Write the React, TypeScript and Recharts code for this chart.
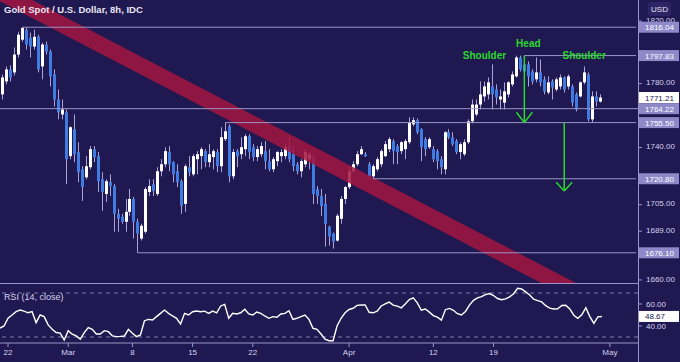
import React from 'react';
import { ComposedChart, LineChart, Line, Bar, XAxis, YAxis, ReferenceLine, ReferenceDot } from 'recharts';

const BG = '#201850';
const AXIS = '#9a95c8';
const TEXT = '#d6d3ee';
const WICK = '#aaa4d6';
const UP = '#ffffff';
const DOWN = '#3f7be0';
const LEVEL_FILL = '#8f89c9';
const GREEN = '#2bd92d';
const FONT = "'Liberation Sans', Arial, sans-serif";

const OPEN = [
  1773.2,1781.4,1789.0,1787.1,1798.5,1808.0,1814.4,1809.3,1803.6,1809.9,
  1790.9,1804.9,1800.4,1785.8,1770.0,1760.6,1761.9,1734.7,1751.4,1737.2,
  1726.6,1721.7,1727.9,1739.0,1734.7,1720.5,1711.5,1718.7,1716.3,1699.5,
  1697.7,1694.7,1700.7,1708.5,1694.7,1684.6,1688.7,1712.7,1717.5,1711.5,
  1725.4,1729.7,1737.2,1731.0,1725.4,1719.3,1705.5,1727.9,1723.5,1732.8,
  1734.7,1737.8,1731.0,1734.1,1737.2,1728.5,1745.2,1753.2,1722.3,1737.8,
  1735.9,1739.0,1747.0,1740.2,1734.1,1735.9,1737.8,1731.6,1726.6,1731.6,
  1734.7,1734.7,1740.9,1735.9,1729.7,1725.4,1729.7,1732.8,1734.7,1714.5,
  1710.3,1705.5,1691.7,1687.6,1683.4,1696.5,1708.5,1715.7,1725.4,1729.7,
  1735.9,1735.9,1729.7,1722.3,1726.6,1729.7,1734.7,1739.0,1744.0,1740.9,
  1737.8,1739.0,1743.3,1754.4,1757.0,1751.4,1745.2,1740.2,1739.0,1737.8,
  1732.8,1726.6,1749.5,1746.4,1744.0,1737.2,1735.9,1743.3,1756.3,1760.6,
  1766.8,1771.9,1773.2,1778.2,1776.3,1770.0,1768.0,1773.2,1779.5,1784.6,
  1796.6,1792.2,1792.2,1787.7,1782.7,1787.1,1782.7,1774.4,1781.4,1776.3,
  1778.2,1783.9,1778.2,1778.2,1773.2,1771.9,1780.8,1785.8,1757.5,1771.9,
  1768.7,
];
const HIGH = [
  1785.8,1790.9,1791.5,1803.0,1813.1,1816.0,1815.6,1812.5,1814.4,1811.2,
  1806.1,1806.8,1801.7,1789.0,1776.3,1770.0,1763.7,1753.2,1760.6,1743.3,
  1728.5,1734.7,1740.9,1740.9,1737.2,1724.8,1720.5,1723.5,1717.5,1702.5,
  1699.5,1708.5,1714.5,1709.7,1696.5,1693.5,1715.7,1720.5,1720.5,1727.9,
  1732.8,1740.2,1740.9,1731.6,1729.7,1720.5,1729.7,1734.7,1735.9,1737.8,
  1740.2,1739.0,1742.1,1739.0,1739.0,1752.6,1755.5,1754.4,1739.0,1739.0,
  1746.4,1748.3,1748.3,1742.1,1740.9,1743.3,1744.0,1739.0,1734.1,1737.8,
  1739.0,1742.1,1746.4,1740.9,1731.0,1732.8,1739.0,1737.2,1735.9,1716.3,
  1714.5,1711.5,1692.3,1688.2,1699.5,1710.3,1716.3,1728.5,1731.6,1737.8,
  1740.9,1737.2,1731.0,1729.7,1734.1,1739.0,1744.0,1746.4,1745.2,1742.1,
  1744.0,1745.2,1758.8,1758.8,1758.1,1752.0,1746.4,1746.4,1740.9,1739.0,
  1734.7,1750.1,1751.4,1749.5,1745.2,1743.3,1745.2,1757.5,1770.0,1770.0,
  1781.4,1781.4,1783.9,1792.2,1779.5,1776.3,1780.8,1781.4,1787.7,1797.8,
  1797.8,1795.3,1794.1,1789.0,1796.6,1795.3,1784.6,1784.6,1782.7,1783.9,
  1785.8,1784.6,1785.8,1779.5,1774.4,1781.4,1790.9,1787.1,1775.1,1775.1,
  1773.2,
];
const LOW = [
  1770.0,1779.5,1781.4,1785.2,1796.6,1806.8,1801.7,1796.6,1801.7,1787.1,
  1782.7,1798.5,1778.2,1765.6,1757.5,1757.5,1717.5,1732.8,1731.0,1718.7,
  1707.3,1720.5,1726.6,1731.0,1712.7,1701.3,1706.7,1710.3,1688.7,1688.7,
  1693.5,1688.7,1698.3,1684.6,1676.1,1683.4,1687.6,1710.3,1710.3,1710.3,
  1722.3,1727.9,1725.4,1718.7,1715.7,1699.5,1700.7,1722.3,1722.3,1723.5,
  1726.6,1727.9,1727.9,1726.6,1724.8,1724.8,1744.0,1718.7,1720.5,1727.9,
  1732.8,1734.7,1732.8,1731.6,1731.6,1734.1,1726.6,1725.4,1724.8,1728.5,
  1731.0,1732.8,1731.0,1725.4,1723.5,1721.7,1727.9,1726.6,1705.5,1705.5,
  1698.3,1679.8,1680.4,1678.6,1682.8,1693.5,1705.5,1714.5,1724.8,1728.5,
  1735.3,1734.1,1721.7,1720.8,1725.4,1727.9,1734.1,1737.2,1729.7,1729.7,
  1735.9,1732.8,1742.1,1753.2,1748.3,1731.6,1734.7,1739.0,1731.0,1726.6,
  1723.5,1723.5,1745.2,1740.9,1735.9,1732.8,1734.7,1742.1,1755.0,1759.4,
  1763.7,1768.7,1770.0,1763.7,1766.8,1763.7,1763.7,1771.3,1778.2,1783.9,
  1787.7,1782.7,1778.2,1779.5,1780.8,1778.2,1773.2,1773.2,1770.0,1775.1,
  1776.3,1774.4,1776.3,1765.6,1762.5,1771.3,1779.5,1756.3,1755.5,1765.6,
  1768.0,
];
const CLOSE = [
  1783.9,1789.0,1783.9,1798.5,1811.2,1815.6,1804.9,1803.6,1809.9,1789.0,
  1804.9,1800.4,1784.6,1770.0,1761.9,1763.7,1732.8,1752.6,1735.9,1724.8,
  1715.7,1728.5,1739.0,1734.1,1719.3,1712.7,1719.3,1716.3,1699.5,1696.5,
  1694.7,1700.7,1708.5,1694.7,1687.6,1692.3,1714.5,1716.3,1713.3,1725.4,
  1729.7,1737.8,1729.7,1723.5,1718.7,1704.3,1728.5,1724.8,1734.7,1735.9,
  1739.0,1731.0,1735.9,1737.8,1728.5,1746.4,1750.1,1722.3,1737.2,1734.7,
  1740.2,1747.0,1737.2,1734.1,1739.0,1740.9,1731.6,1726.6,1732.8,1737.2,
  1737.2,1740.2,1732.8,1728.5,1725.4,1731.6,1737.2,1735.9,1711.5,1710.3,
  1704.3,1693.5,1685.8,1682.8,1698.3,1708.5,1715.7,1725.4,1729.7,1735.9,
  1739.0,1734.7,1722.3,1728.5,1732.8,1737.8,1742.1,1745.2,1737.8,1737.2,
  1743.3,1744.0,1755.7,1757.0,1749.5,1740.2,1739.0,1745.2,1732.8,1731.6,
  1727.9,1749.5,1746.4,1742.1,1737.2,1742.1,1743.3,1756.3,1766.8,1766.8,
  1773.2,1778.2,1780.8,1773.2,1771.3,1771.9,1775.1,1780.8,1785.8,1796.6,
  1789.0,1787.7,1784.6,1781.4,1787.1,1780.8,1775.1,1780.8,1777.6,1782.7,
  1783.9,1776.3,1784.6,1768.0,1763.7,1780.8,1787.1,1757.5,1771.9,1768.7,
  1771.2,
];
const RSI = [
  38,40,47,50,53,54.5,53.5,52,53,43,
  50,48.5,41,37,34,33.5,27.3,35.7,32.5,30.9,
  28,34,38.5,37,32.7,32.7,35.7,34.8,31,30.3,
  30.5,30.9,37,33.4,30.3,31.8,44.8,46,45.5,48.5,
  51.5,54.5,51.5,49.1,47,41.8,51.5,50,53,53.6,
  53,53.5,51.5,53.6,52,58.2,59.7,47,51.5,50.9,
  52,55.2,50.9,50,52.7,51.5,49.1,47,48.5,47.9,
  50.9,51.5,53.9,46,47,48.5,50,46,37.9,37,
  32.7,27.9,26.6,26.6,40,47,52,55,56.1,58.7,
  59.1,59.1,52.5,52,53.5,58.2,60.2,61.7,59,58,
  56.5,60,64,65.6,61,54.3,55.4,52.6,49.4,48,
  45.3,54.8,56,54.3,51.2,50,53.2,59,63.3,65.5,
  66.7,68.6,69.5,67.7,65,63.9,64.7,66.5,69.3,74.3,
  73.7,71,68.2,64.3,63,61.9,58.5,56.3,55.5,55.6,
  58.6,58.8,55.5,49.8,47,50.1,56.6,48.5,42.3,48.3,
  48.67,
];

const SLOTS = 160;
const TICK_IDX = [2, 17, 33, 48, 63, 87, 108, 123, 152];
const TICK_LABELS = ['22', 'Mar', '8', '15', '22', 'Apr', '12', '19', 'May'];
const PRICE_TICKS = [1820, 1780, 1740, 1705, 1689, 1660];
const LEVELS = [1816.04, 1797.83, 1764.22, 1755.5, 1720.8, 1676.1];
const LEVEL_START = [5, 131, 0, 56, 93, 34];
const LAST_PRICE = 1771.21;
const PRICE_DOMAIN = [1658.2, 1833.7];
const RSI_TICKS = [60, 40];
const RSI_LAST = 48.67;
const RSI_BANDS = [70, 30];
const RSI_DOMAIN = [24.5, 78.2];
const TREND_IDX = [0, 159];
const TREND_VAL = [1838.1, 1634.6];

const rows = Array.from({ length: SLOTS }, (_, i) => {
  const has = i < OPEN.length;
  const ti = TREND_IDX.indexOf(i);
  return {
    i,
    open: has ? OPEN[i] : null,
    high: has ? HIGH[i] : null,
    low: has ? LOW[i] : null,
    close: has ? CLOSE[i] : null,
    range: has ? [LOW[i], HIGH[i]] : null,
    rsi: i < RSI.length ? RSI[i] : null,
    trend: ti >= 0 ? TREND_VAL[ti] : null,
  };
});

const Candle = (props: any) => {
  const { x, y, width, height, payload } = props;
  if (!payload || payload.open == null || x == null || y == null) return null;
  const { open, close, high, low } = payload;
  const top = Math.min(y, y + height);
  const h = Math.abs(height);
  const span = Math.log(high) - Math.log(low);
  const k = span > 0 ? h / span : 0;
  const py = (v: number) => top + (Math.log(high) - Math.log(v)) * k;
  const c = Math.round(x + width / 2);
  const up = close >= open;
  const bTop = py(Math.max(open, close));
  const bBot = py(Math.min(open, close));
  return (
    <g>
      <line x1={c + 0.5} x2={c + 0.5} y1={top} y2={top + h} stroke={WICK} strokeWidth={1} />
      <rect x={c - 1} y={bTop} width={3} height={Math.max(1, bBot - bTop)} fill={up ? UP : DOWN} />
    </g>
  );
};

const PriceTick = (p: any) => {
  const { x, y, payload } = p;
  const v = payload.value;
  if (v === LAST_PRICE) {
    return (
      <g>
        <rect x={x + 1} y={y - 5.5} width={40} height={11} fill="#ffffff" />
        <text x={x + 7} y={y + 3} fontSize={8} fill={BG} fontFamily={FONT}>{v.toFixed(2)}</text>
      </g>
    );
  }
  if (LEVELS.includes(v)) {
    return (
      <g>
        <rect x={x + 1} y={y - 5.5} width={40} height={11} fill={LEVEL_FILL} />
        <text x={x + 7} y={y + 3} fontSize={8} fill="#ffffff" fontFamily={FONT}>{v.toFixed(2)}</text>
      </g>
    );
  }
  return (
    <g>
      <line x1={x} x2={x + 4} y1={y} y2={y} stroke={AXIS} />
      <text x={x + 8} y={y + 1.6} fontSize={8} fill={TEXT} fontFamily={FONT}>{v.toFixed(2)}</text>
    </g>
  );
};

const RsiTick = (p: any) => {
  const { x, y, payload } = p;
  const v = payload.value;
  if (v === RSI_LAST) {
    return (
      <g>
        <rect x={x + 1} y={y - 5.5} width={40} height={11} fill="#ffffff" />
        <text x={x + 7} y={y + 3} fontSize={8} fill={BG} fontFamily={FONT}>{v.toFixed(2)}</text>
      </g>
    );
  }
  return (
    <g>
      <line x1={x} x2={x + 4} y1={y} y2={y} stroke={AXIS} />
      <text x={x + 8} y={y + 2.8} fontSize={8} fill={TEXT} fontFamily={FONT}>{v.toFixed(2)}</text>
    </g>
  );
};

const textShape = (label: string) => (p: any) => (
  <text x={p.cx} y={p.cy} textAnchor="middle" dominantBaseline="central" fontSize={10} fontWeight="bold" fill={GREEN} fontFamily={FONT}>{label}</text>
);

export default function App() {
  return (
    <div style={{ position: 'absolute', left: 0, top: 0, width: 680, height: 362, background: BG, overflow: 'hidden', fontFamily: FONT }}>
      <div style={{ position: 'absolute', left: 0, top: 0 }}>
        <ComposedChart width={680} height={283} data={rows} margin={{ top: 0, right: 0, left: 0, bottom: 0 }}>
          <XAxis dataKey="i" hide />
          <YAxis
            orientation="right"
            width={42}
            scale="log"
            domain={PRICE_DOMAIN}
            allowDataOverflow
            ticks={[...PRICE_TICKS, ...LEVELS, LAST_PRICE]}
            interval={0}
            tick={<PriceTick />}
            tickSize={0}
            tickMargin={0}
            axisLine={false}
            tickLine={false}
          />
          <Line dataKey="trend" stroke="#a3153f" strokeOpacity={0.85} strokeWidth={16} dot={false} connectNulls isAnimationActive={false} />
          {LEVELS.map((lv, k) =>
            LEVEL_START[k] === 0 ? (
              <ReferenceLine key={lv} y={lv} stroke={AXIS} strokeWidth={1} />
            ) : (
              <ReferenceLine key={lv} segment={[{ x: LEVEL_START[k], y: lv }, { x: SLOTS - 1, y: lv }]} stroke={AXIS} strokeWidth={1} />
            )
          )}
          <Bar dataKey="range" shape={(p: any) => <Candle {...p} />} isAnimationActive={false} />
          <ReferenceLine segment={[{ x: 131, y: 1797.83 }, { x: 131, y: 1755.5 }]} stroke={GREEN} strokeWidth={1.5} />
          <ReferenceLine segment={[{ x: 129, y: 1762.0 }, { x: 131, y: 1755.5 }]} stroke={GREEN} strokeWidth={1.5} />
          <ReferenceLine segment={[{ x: 131, y: 1755.5 }, { x: 133, y: 1762.0 }]} stroke={GREEN} strokeWidth={1.5} />
          <ReferenceLine segment={[{ x: 141, y: 1755.5 }, { x: 141, y: 1713.3 }]} stroke={GREEN} strokeWidth={1.5} />
          <ReferenceLine segment={[{ x: 139, y: 1718.7 }, { x: 141, y: 1713.3 }]} stroke={GREEN} strokeWidth={1.5} />
          <ReferenceLine segment={[{ x: 141, y: 1713.3 }, { x: 143, y: 1718.7 }]} stroke={GREEN} strokeWidth={1.5} />
          <ReferenceDot x={121} y={1797.7} r={0} shape={textShape('Shoulder')} />
          <ReferenceDot x={132} y={1805.8} r={0} shape={textShape('Head')} />
          <ReferenceDot x={146} y={1797.7} r={0} shape={textShape('Shoulder')} />
        </ComposedChart>
      </div>
      <div style={{ position: 'absolute', left: 0, top: 283, width: 638, height: 1, background: AXIS }} />
      <div style={{ position: 'absolute', left: 0, top: 284 }}>
        <LineChart width={680} height={78} data={rows} margin={{ top: 0, right: 0, left: 0, bottom: 0 }}>
          <XAxis
            dataKey="i"
            ticks={TICK_IDX}
            interval={0}
            height={19}
            tickFormatter={(v: any) => TICK_LABELS[TICK_IDX.indexOf(Number(v))] ?? ''}
            axisLine={{ stroke: AXIS }}
            tickLine={{ stroke: AXIS }}
            tickSize={4}
            tickMargin={2}
            tick={{ fill: TEXT, fontSize: 8, fontFamily: FONT }}
          />
          <YAxis
            orientation="right"
            width={42}
            domain={RSI_DOMAIN}
            allowDataOverflow
            ticks={[...RSI_TICKS, RSI_LAST]}
            interval={0}
            tick={<RsiTick />}
            tickSize={0}
            tickMargin={0}
            axisLine={false}
            tickLine={false}
          />
          {RSI_BANDS.map((b) => (
            <ReferenceLine key={b} y={b} stroke={AXIS} strokeOpacity={0.8} strokeDasharray="4 4" />
          ))}
          <Line dataKey="rsi" stroke="#ffffff" strokeWidth={1.4} dot={false} isAnimationActive={false} />
        </LineChart>
      </div>
      <div style={{ position: 'absolute', left: 638, top: 0, width: 1, height: 362, background: AXIS }} />
      <svg width={680} height={362} style={{ position: 'absolute', left: 0, top: 0, pointerEvents: 'none' }}>
        <text x={4} y={13.3} fontSize={9.5} fontWeight="bold" fill="#e8e6f5" fontFamily={FONT}>Gold Spot / U.S. Dollar, 8h, IDC</text>
        <rect x={648} y={2} width={23} height={14} rx={2} fill="#2d2566" />
        <text x={659.5} y={12} fontSize={8} textAnchor="middle" fill="#e8e6f5" fontFamily={FONT}>USD</text>
        <text x={4} y={299.5} fontSize={9} fill={TEXT} fontFamily={FONT}>RSI (14, close)</text>
      </svg>
    </div>
  );
}
